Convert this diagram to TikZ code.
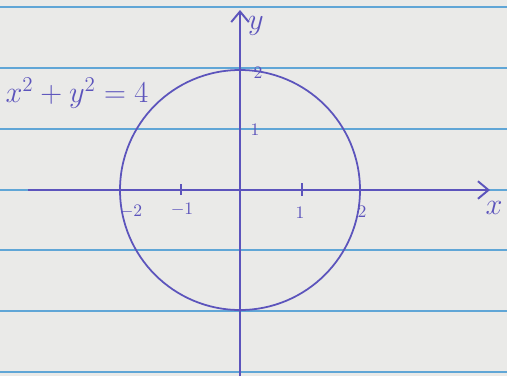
\documentclass[tikz,border=0pt]{standalone}
\usetikzlibrary{arrows.meta}
\definecolor{ink}{RGB}{92,84,188}
\definecolor{ruleblue}{RGB}{96,166,214}
\definecolor{paper}{RGB}{234,234,232}
\tikzset{
  axis/.style={ink, line width=1.1pt, -{Straight Barb[length=6pt,width=10pt]}},
  tickmark/.style={ink, line width=1pt},
  ticklabel/.style={ink, inner sep=1pt},
  axislabel/.style={ink, font=\LARGE, inner sep=1pt},
}
\begin{document}
\begin{tikzpicture}[x=0.02cm, y=-0.02cm]
% paper and its ruling
\fill[paper] (0,0) rectangle (507,376);
\useasboundingbox (0,0) rectangle (507,376);
\foreach \r in {7,68,129,190,250,311,372}
  \draw[ruleblue, line width=1pt] (0,\r) -- (507,\r);

% axes
\coordinate (O) at (240,190);
\coordinate (xstart) at (28,190);
\coordinate (xend) at (490,190);
\coordinate (ystart) at (240,376);
\coordinate (yend) at (240,10);
\draw[axis] (xstart) -- (xend);
\draw[axis] (ystart) -- (yend);
\node[axislabel] (xlab) at (494,208) {$x$};
\node[axislabel] (ylab) at (256,26) {$y$};

% circle of radius 2
\draw[ink, line width=1pt] (O) circle[radius=120];

% ticks and labels
\draw[tickmark] (181,184) -- (181,195);
\draw[tickmark] (302,183) -- (302,196);
\node[ticklabel] (xm2) at (131,212) {$-2$};
\node[ticklabel] (xm1) at (182,210) {$-1$};
\node[ticklabel] (xp1) at (300,213) {$1$};
\node[ticklabel] (xp2) at (362,212) {$2$};
\node[ticklabel] (yp1) at (255,130) {$1$};
\node[ticklabel] (yp2) at (258,73) {$2$};

% equation
\node[ink, font=\fontsize{17}{20}\selectfont, inner sep=0pt] (eq) at (77,93) {$x^2+y^2=4$};
\end{tikzpicture}
\end{document}
